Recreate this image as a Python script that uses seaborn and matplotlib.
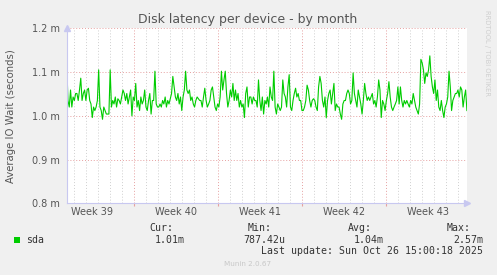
import numpy as np
import pandas as pd
import matplotlib
matplotlib.use("Agg")
import matplotlib.pyplot as plt
import matplotlib.dates as mdates
from matplotlib.ticker import FuncFormatter, FixedLocator, NullFormatter
from matplotlib.patches import Rectangle
import seaborn as sns

# ---------------- data (average IO wait, milliseconds) ----------------
values_ms = [
    1.121, 1.035, 1.020, 1.059, 1.020, 1.043, 1.035, 1.051, 1.051, 1.035, 1.059, 1.086, 1.035, 1.051,
    1.059, 1.035, 1.059, 1.063, 1.035, 1.027, 0.996, 1.020, 1.012, 1.020, 1.035, 1.105, 1.020, 1.012,
    0.992, 1.020, 1.012, 1.004, 1.004, 1.004, 1.105, 1.020, 1.035, 1.027, 1.043, 1.020, 1.039, 1.035,
    1.027, 1.043, 1.059, 1.051, 1.035, 1.051, 1.027, 1.043, 1.059, 1.000, 1.043, 1.035, 1.074, 1.020,
    1.035, 1.012, 1.043, 1.027, 1.035, 1.059, 1.020, 1.012, 1.035, 1.051, 1.004, 1.035, 1.035, 1.102,
    1.027, 1.020, 1.020, 1.027, 1.020, 1.035, 1.027, 1.043, 1.020, 1.035, 1.027, 1.039, 1.051, 1.090,
    1.066, 1.043, 1.035, 1.051, 1.027, 1.043, 1.012, 1.043, 1.059, 1.102, 1.059, 1.051, 1.059, 1.035,
    1.043, 1.027, 1.020, 1.035, 1.043, 1.039, 1.035, 1.035, 1.020, 1.043, 1.063, 1.035, 1.020, 1.027,
    1.035, 1.059, 1.066, 1.043, 1.020, 1.012, 1.027, 1.020, 1.043, 1.102, 1.059, 1.082, 1.102, 1.051,
    1.020, 1.035, 1.059, 1.043, 1.074, 1.035, 1.059, 1.035, 1.051, 1.020, 1.035, 1.020, 1.027, 0.996,
    1.051, 1.066, 1.020, 1.043, 1.043, 1.027, 1.043, 1.035,
    1.035, 1.020, 1.082, 1.035, 1.012, 1.043, 1.004, 1.035, 1.027, 1.043, 1.020, 1.066, 1.043, 1.035,
    1.102, 1.020, 1.004, 1.027, 1.020, 1.012, 1.020, 1.082, 1.051, 1.043, 1.020, 1.066, 1.094, 1.020,
    1.012, 1.035, 1.051, 1.063, 1.043, 1.051, 1.035, 1.035, 1.012, 1.012, 1.020, 1.035, 1.070, 1.059,
    1.035, 1.020, 1.035, 1.039, 1.035, 1.020, 1.012, 1.066, 1.090, 1.074, 1.035, 1.020, 1.043, 0.996,
    1.035, 1.051, 1.059, 1.027, 1.051, 1.074, 1.012, 1.027, 1.020, 1.020, 1.004, 0.992, 1.027, 1.035,
    1.035, 1.051, 1.059, 1.051, 1.027, 1.035, 1.098, 1.051, 1.035, 1.020, 1.059, 1.043, 1.027, 1.004,
    1.035, 1.074, 1.051, 1.035, 1.043, 1.035, 1.043, 1.051, 1.027, 1.035, 1.020, 1.043, 1.082, 1.059,
    0.996, 1.035, 1.027, 1.012, 1.035, 1.051, 1.078, 1.043, 1.020, 1.012, 1.020, 1.027, 1.035, 1.066,
    1.027, 1.066, 1.035, 1.020, 1.035, 1.027, 1.035, 1.027, 1.020, 1.035, 1.027, 1.051, 1.035, 1.020,
    1.012, 1.004, 1.027, 1.129, 1.121, 1.105, 1.074, 1.098, 1.090, 1.105, 1.137, 1.090, 1.066, 1.051,
    1.082, 1.035, 1.059, 1.020, 1.012, 1.035, 1.012, 0.996, 1.020, 1.027, 1.043, 1.102, 1.066, 1.012,
    1.035, 1.043, 1.051, 1.051, 1.059, 1.043, 1.066, 1.059, 1.020, 1.043, 1.059, 1.012,
]
data_start = "2025-09-23 10:20"
data_end = "2025-10-26 18:30"
view_start = "2025-09-23 10:20"
view_end = "2025-10-26 18:40"

week_labels = ["Week 39", "Week 40", "Week 41", "Week 42", "Week 43"]
week_mondays = ["2025-09-22", "2025-09-29", "2025-10-06", "2025-10-13", "2025-10-20"]

y_ticks = [0.8, 0.9, 1.0, 1.1, 1.2]

legend_series = "sda"
stat_names = ["Cur:", "Min:", "Avg:", "Max:"]
stat_values = ["1.01m", "787.42u", "1.04m", "2.57m"]
last_update = "Last update: Sun Oct 26 15:00:18 2025"

title = "Disk latency per device - by month"
ylabel = "Average IO Wait (seconds)"

# ---------------- frame ----------------
times = pd.date_range(data_start, data_end, periods=len(values_ms))
df = pd.DataFrame({"time": times, "wait_ms": values_ms})

W, H = 497, 275
fig = plt.figure(figsize=(W / 100, H / 100), dpi=100, facecolor="#F0F0F0")
L, R, T, B = 66.7, 467.0, 28.3, 203.3
ax = fig.add_axes([L / W, 1 - B / H, (R - L) / W, (B - T) / H])
ax.set_facecolor("white")

grid_major = "#E6A0A0"
grid_minor = "#CFCFCF"
axis_col = "#C8C8F0"
text_col = "#555555"
green = "#00CC00"

sns.lineplot(data=df, x="time", y="wait_ms", ax=ax, color=green, linewidth=0.8, legend=False)

ax.set_xlim(pd.Timestamp(view_start), pd.Timestamp(view_end))
ax.set_ylim(y_ticks[0], y_ticks[-1])

# y axis
ax.yaxis.set_major_locator(FixedLocator(y_ticks))
ax.yaxis.set_major_formatter(FuncFormatter(lambda v, p: f"{v:.1f} m"))
ax.tick_params(axis="y", length=0, pad=5, labelsize=7, labelcolor=text_col)
ax.set_ylabel(ylabel, fontsize=7.3, color=text_col)
ax.yaxis.set_label_coords((16.0 - L) / (R - L), 0.5)

# x axis: major = Mondays (week boundaries), minor = midnights
mondays = pd.to_datetime(week_mondays)
ax.xaxis.set_major_locator(FixedLocator(mdates.date2num(mondays)))
ax.xaxis.set_major_formatter(NullFormatter())
ax.xaxis.set_minor_locator(mdates.DayLocator())
ax.tick_params(axis="x", which="major", length=2.5, width=0.8, color=grid_major, direction="out")
ax.tick_params(axis="x", which="minor", length=0)
ax.set_xlabel("")

ax.grid(False)
ax.xaxis.grid(True, which="minor", color=grid_minor, linestyle=(0, (1, 2)), linewidth=0.7)
ax.xaxis.grid(True, which="major", color=grid_major, linestyle=(0, (1, 2)), linewidth=0.7)
ax.yaxis.grid(True, which="major", color=grid_major, linestyle=(0, (1, 2)), linewidth=0.7)
ax.set_axisbelow(True)

# week labels in the middle of each week
sec = ax.secondary_xaxis("bottom")
centers = mdates.date2num(mondays + pd.Timedelta(hours=84))
sec.set_xticks(centers)
sec.set_xticklabels(week_labels)
sec.tick_params(length=0, pad=3, labelsize=7, labelcolor=text_col)
sec.spines["bottom"].set_visible(False)

for s in ["top", "right"]:
    ax.spines[s].set_visible(False)
ax.spines["left"].set_color(axis_col)
ax.spines["bottom"].set_color(axis_col)
ax.spines["left"].set_linewidth(0.8)
ax.spines["bottom"].set_linewidth(0.8)
# axis arrows
ax.plot([0], [1.0], marker="^", markersize=4, color=axis_col, transform=ax.transAxes, clip_on=False)
ax.plot([1.0], [0], marker=">", markersize=4, color=axis_col, transform=ax.transAxes, clip_on=False)

# title
fig.text(248 / W, 1 - 19 / H, title, ha="center", va="center", fontsize=9, color=text_col)

# vertical credit
fig.text(487.5 / W, 1 - 53 / H, "RRDTOOL / TOBI OETIKER", rotation=270, ha="center", va="center",
         fontsize=4.9, color="#CFCFCF")

# legend
mono = "DejaVu Sans Mono"
fig.patches.append(Rectangle((14 / W, 1 - 243 / H), 6 / W, 6 / H, transform=fig.transFigure,
                             facecolor=green, edgecolor="none"))
fig.text(26 / W, 1 - 240 / H, legend_series, family=mono, fontsize=7.1, color="#333333",
         ha="left", va="center")
name_x = [149, 248, 348, 447]
val_right = [185, 285, 384, 483]
for nm, vl, nx, vr in zip(stat_names, stat_values, name_x, val_right):
    fig.text(nx / W, 1 - 228 / H, nm, family=mono, fontsize=7.1, color="#333333", ha="left", va="center")
    fig.text(vr / W, 1 - 240 / H, vl, family=mono, fontsize=7.1, color="#333333", ha="right", va="center")
fig.text(483 / W, 1 - 251.5 / H, last_update, family=mono, fontsize=7.1, color="#333333",
         ha="right", va="center")

fig.text(248 / W, 1 - 264 / H, "Munin 2.0.67", ha="center", va="center", fontsize=5.2, color="#C8C8C8")

fig.savefig("out.png", dpi=100, facecolor=fig.get_facecolor())
